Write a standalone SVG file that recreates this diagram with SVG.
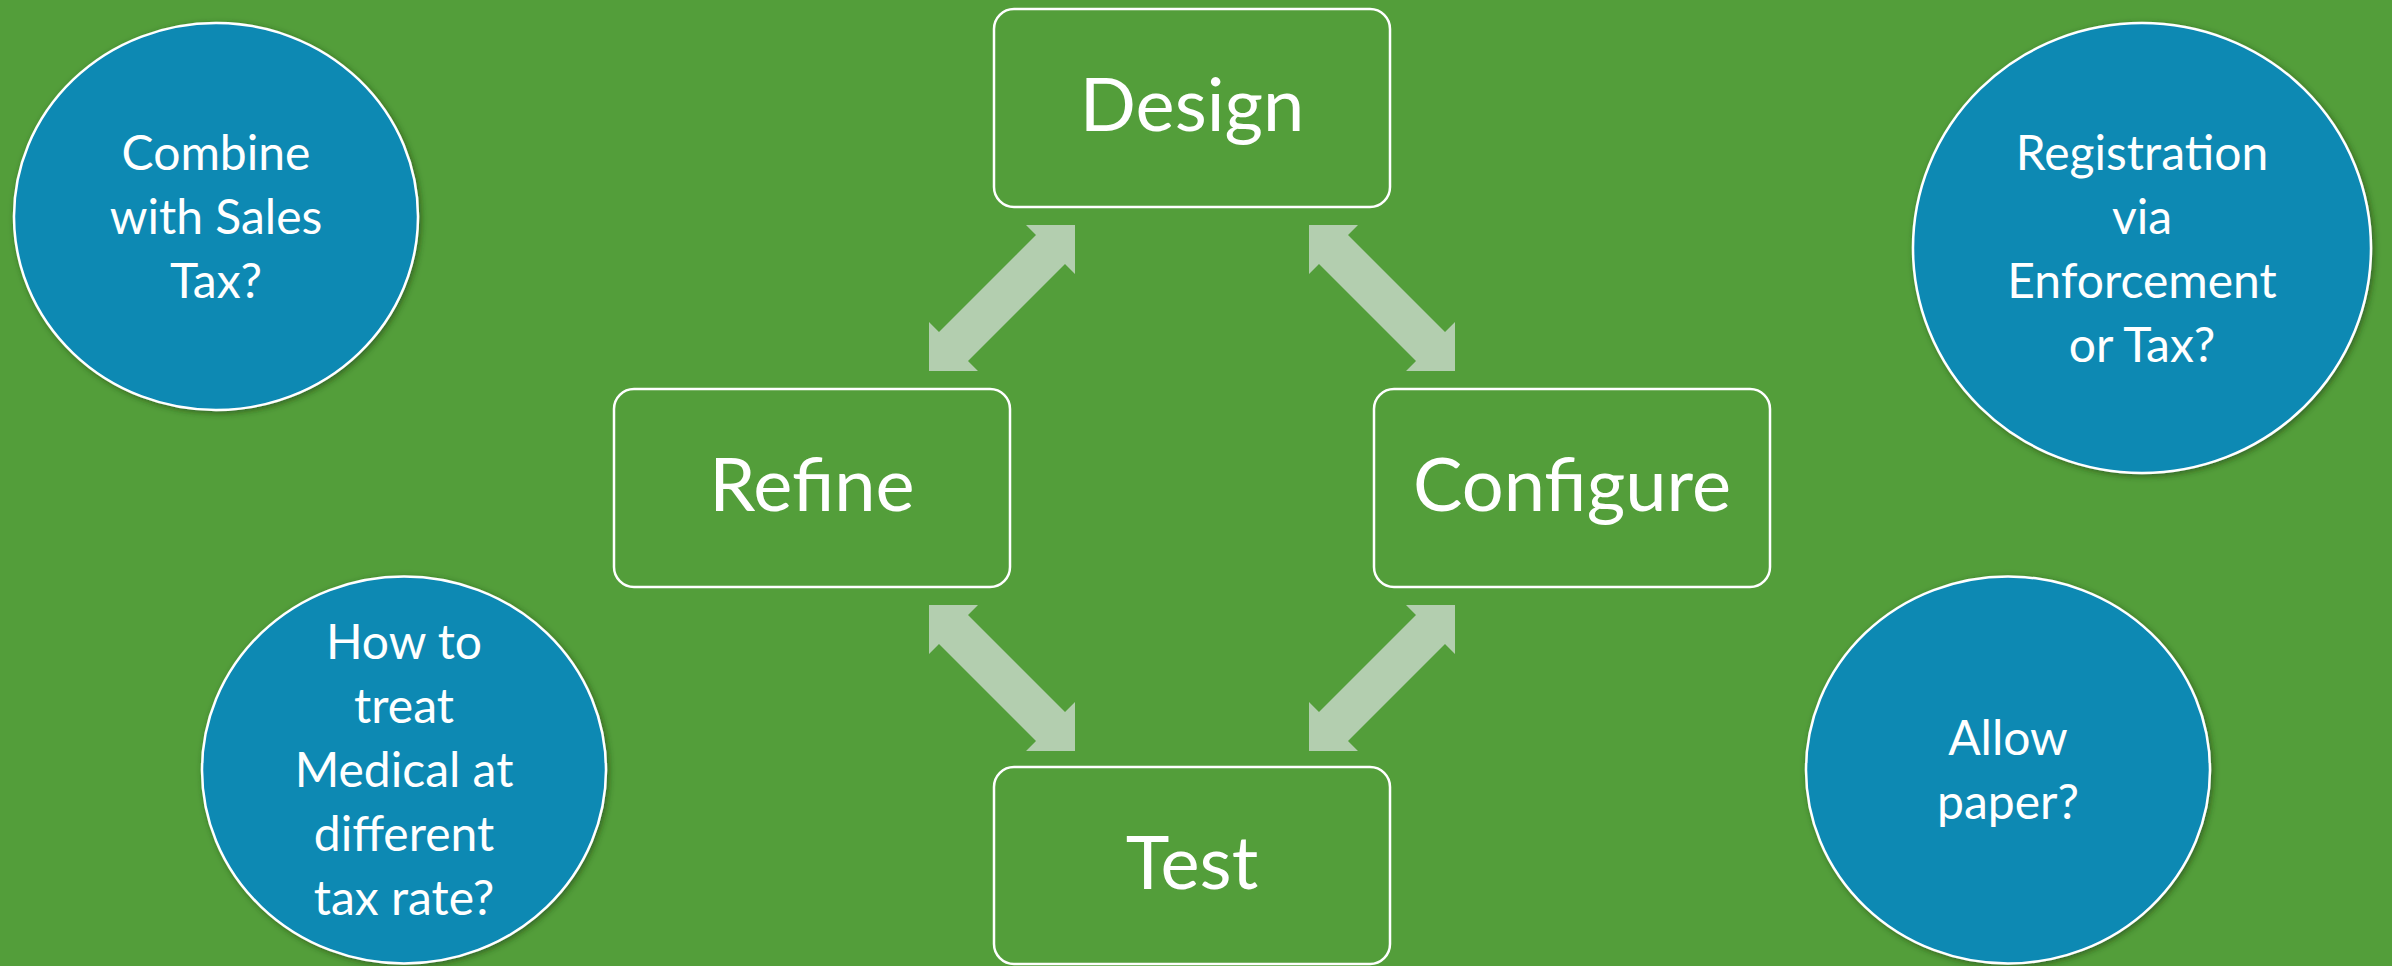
<svg xmlns="http://www.w3.org/2000/svg" width="2392" height="966" viewBox="0 0 2392 966">
<style>
.box{fill:none;stroke:#ffffff;stroke-width:2.5}
.btxt{font-family:Lato,"Open Sans",sans-serif;font-size:74px;fill:#ffffff;text-anchor:middle}
.circ{fill:#0C89B3;stroke:#ffffff;stroke-width:2.5;filter:url(#sh)}
.ctxt{font-family:Lato,"Open Sans",sans-serif;font-size:48px;fill:#ffffff;text-anchor:middle}
.arr{fill:#B3CEAF}
</style>
<defs>
<filter id="sh" x="-10%" y="-10%" width="120%" height="120%">
<feDropShadow dx="2" dy="2" stdDeviation="3" flood-color="#1e3d12" flood-opacity="0.6"/>
</filter>
</defs>
<rect x="0" y="0" width="2392" height="966" fill="#539E3A"/>
<g id="connectors">
<polygon class="arr" points="1075,225 1075,274 1065,264 968,361 978,371 929,371 929,322 939,332 1036,235 1026,225"/>
<polygon class="arr" points="1309,225 1309,274 1319,264 1416,361 1406,371 1455,371 1455,322 1445,332 1348,235 1358,225"/>
<polygon class="arr" points="1075,751 1075,702 1065,712 968,615 978,605 929,605 929,654 939,644 1036,741 1026,751"/>
<polygon class="arr" points="1309,751 1309,702 1319,712 1416,615 1406,605 1455,605 1455,654 1445,644 1348,741 1358,751"/>
</g>
<g id="design">
<rect class="box" x="994" y="9" width="396" height="198" rx="20"/>
<text class="btxt" x="1192" y="131">Design</text>
</g>
<g id="refine">
<rect class="box" x="614" y="389" width="396" height="198" rx="20"/>
<text class="btxt" x="812" y="511">Refine</text>
</g>
<g id="configure">
<rect class="box" x="1374" y="389" width="396" height="198" rx="20"/>
<text class="btxt" x="1572" y="511">Configure</text>
</g>
<g id="test">
<rect class="box" x="994" y="767" width="396" height="197" rx="20"/>
<text class="btxt" x="1192" y="889">Test</text>
</g>
<g id="combine">
<ellipse class="circ" cx="216" cy="216.5" rx="202" ry="193.5"/>
<text class="ctxt" x="216" y="170">Combine</text>
<text class="ctxt" x="216" y="234">with Sales</text>
<text class="ctxt" x="216" y="298">Tax?</text>
</g>
<g id="registration">
<ellipse class="circ" cx="2142" cy="248" rx="229" ry="225"/>
<text class="ctxt" x="2142" y="170">Registration</text>
<text class="ctxt" x="2142" y="234">via</text>
<text class="ctxt" x="2142" y="298">Enforcement</text>
<text class="ctxt" x="2142" y="362">or Tax?</text>
</g>
<g id="medical">
<ellipse class="circ" cx="404" cy="770" rx="202" ry="193.5"/>
<text class="ctxt" x="404" y="659">How to</text>
<text class="ctxt" x="404" y="723">treat</text>
<text class="ctxt" x="404" y="787">Medical at</text>
<text class="ctxt" x="404" y="851">different</text>
<text class="ctxt" x="404" y="915">tax rate?</text>
</g>
<g id="paper">
<ellipse class="circ" cx="2008" cy="770" rx="202" ry="193.5"/>
<text class="ctxt" x="2008" y="755">Allow</text>
<text class="ctxt" x="2008" y="819">paper?</text>
</g>
</svg>
